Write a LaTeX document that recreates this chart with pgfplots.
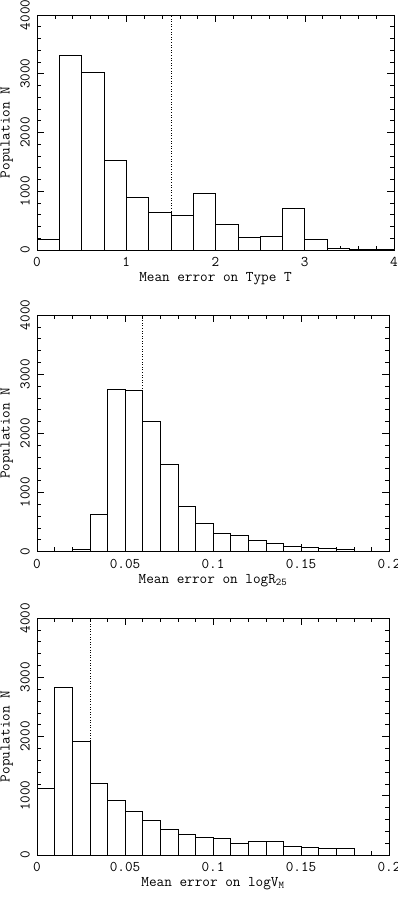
\documentclass[border=0pt]{standalone}
\usepackage{pgfplots}
\pgfplotsset{compat=1.18}
\newcommand\pf{\fontsize{14.8bp}{17bp}\selectfont\ttfamily}

\pgfplotsset{
  histo/.style={
    scale only axis,
    anchor=south west,
    ymin=0, ymax=4000,
    ytick={0,1000,2000,3000,4000},
    minor x tick num=4,
    minor y tick num=4,
    tick align=inside,
    xtick pos=both, ytick pos=both,
    major tick length=7bp, minor tick length=4bp,
    every tick/.style={black, line width=0.5bp},
    axis line style={line width=0.6bp},
    /pgf/number format/assume math mode=true,
    /pgf/number format/1000 sep={},
    /pgf/number format/fixed,
    scaled ticks=false,
    tick label style={font=\pf},
    label style={font=\pf},
    xticklabel style={anchor=center, yshift=-12bp},
    yticklabel style={xshift=-12bp, rotate=90, anchor=center},
    ylabel={Population N},
    ylabel style={at={(axis description cs:0,0.5)}, anchor=center, yshift=30.3bp},
    xlabel style={at={(axis description cs:0.5,0)}, anchor=center, yshift=-29bp},
  },
  bars/.style={ybar interval, draw=black, fill=white, line width=0.6bp},
  mark line/.style={black, dotted, line width=0.6bp},
}

\begin{document}
\begin{tikzpicture}
\useasboundingbox (0,0) rectangle (398bp,903bp);

% top: Type T
\begin{axis}[histo,
    at={(37bp,653bp)}, width=357bp, height=235bp,
    xmin=0, xmax=4, xtick={0,1,2,3,4},
    xlabel={Mean error on Type T},
]
\addplot[mark line] coordinates {(1.5,0) (1.5,4000)};
\addplot[bars] coordinates {
  (0,180) (0.25,3320) (0.5,3025) (0.75,1520) (1,895) (1.25,640) (1.5,585)
  (1.75,965) (2,430) (2.25,215) (2.5,235) (2.75,710) (3,180) (3.25,30)
  (3.5,12) (3.75,12) (4,0)
};
\end{axis}

% middle: log R25
\begin{axis}[histo,
    at={(37bp,351.5bp)}, width=352bp, height=236.5bp,
    xmin=0, xmax=0.2, xtick={0,0.05,0.1,0.15,0.2},
    xlabel={Mean error on logR\textsubscript{25}},
]
\addplot[mark line] coordinates {(0.06,0) (0.06,4000)};
\addplot[bars] coordinates {
  (0,5) (0.01,5) (0.02,40) (0.03,630) (0.04,2740) (0.05,2725) (0.06,2205)
  (0.07,1475) (0.08,765) (0.09,480) (0.1,310) (0.11,275) (0.12,190)
  (0.13,140) (0.14,90) (0.15,75) (0.16,55) (0.17,40) (0.18,0)
};
\end{axis}

% bottom: log VM
\begin{axis}[histo,
    at={(37bp,48bp)}, width=352bp, height=237bp,
    xmin=0, xmax=0.2, xtick={0,0.05,0.1,0.15,0.2},
    xlabel={Mean error on logV\textsubscript{M}},
]
\addplot[mark line] coordinates {(0.03,0) (0.03,4000)};
\addplot[bars] coordinates {
  (0,1125) (0.01,2825) (0.02,1915) (0.03,1215) (0.04,925) (0.05,735)
  (0.06,585) (0.07,440) (0.08,350) (0.09,300) (0.1,280) (0.11,195)
  (0.12,230) (0.13,230) (0.14,145) (0.15,130) (0.16,110) (0.17,110) (0.18,0)
};
\end{axis}
\end{tikzpicture}
\end{document}
